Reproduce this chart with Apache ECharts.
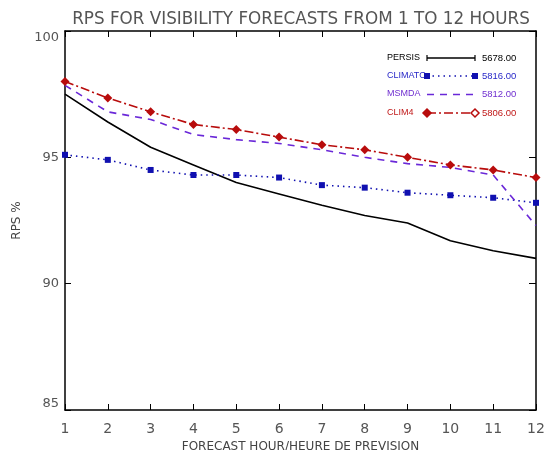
<!DOCTYPE html>
<html lang="en">
<head>
    <meta charset="UTF-8">
    <title>RPS</title>
</head>
<style>
    body{
        margin: 0;
        padding: 0;
        background-color: #fff;
    }
    .main{
        width: 545px;
        height: 450px;
    }
</style>
<body>
    <div class="main"></div>
</body>
<script src="https://cdn.jsdelivr.net/npm/echarts/dist/echarts.min.js"></script>
<script>
  // data
  var hours = [1, 2, 3, 4, 5, 6, 7, 8, 9, 10, 11, 12];
  var persis  = [97.5, 96.4, 95.4, 94.7, 94.0, 93.55, 93.1, 92.7, 92.4, 91.7, 91.3, 91.0];
  var climato = [95.1, 94.9, 94.5, 94.3, 94.3, 94.2, 93.9, 93.8, 93.6, 93.5, 93.4, 93.2];
  var msmda   = [97.85, 96.8, 96.5, 95.9, 95.7, 95.55, 95.3, 95.0, 94.75, 94.6, 94.3, 92.3];
  var clim4   = [98.0, 97.35, 96.8, 96.3, 96.1, 95.8, 95.5, 95.3, 95.0, 94.7, 94.5, 94.2];
  var names   = ['PERSIS', 'CLIMATO', 'MSMDA', 'CLIM4'];
  var totals  = [5678.00, 5816.00, 5812.00, 5806.00];
  var yTicks  = [85, 90, 95, 100];

  var myChart = echarts.init(document.querySelector('.main'));

  function pairs(vals){
    return hours.map(function(h, i){ return [h, vals[i]]; });
  }

  var colors = ['#000000', '#1010b0', '#6a28d8', '#b80c0c'];
  var textColors = ['#000000', '#2828c8', '#7030d0', '#c01818'];
  var dashes = ['solid', [1.5, 4], [7, 6], [9, 3, 2, 3]];

  // hand-made legend: name, line sample, total
  var legendItems = [];
  var legY = [58, 76, 94.5, 113];
  names.forEach(function(n, i){
    var y = legY[i];
    legendItems.push({
      type: 'text', left: 387, top: y - 5,
      style: { text: n, fill: textColors[i], font: '9px "Liberation Sans"' }
    });
    legendItems.push({
      type: 'line', shape: { x1: 427, y1: y, x2: 475, y2: y },
      style: { stroke: colors[i], lineWidth: 1.5, lineDash: dashes[i] === 'solid' ? null : dashes[i] }
    });
    legendItems.push({
      type: 'text', left: 482, top: y - 5,
      style: { text: totals[i].toFixed(2), fill: textColors[i], font: '9.5px "Liberation Sans"' }
    });
    [427, 475].forEach(function(x){
      if (i === 0) {
        legendItems.push({ type: 'line', shape: { x1: x, y1: y - 3, x2: x, y2: y + 3 }, style: { stroke: '#000', lineWidth: 1.2 } });
      } else if (i === 1) {
        legendItems.push({ type: 'rect', shape: { x: x - 3, y: y - 3, width: 6, height: 6 }, style: { fill: colors[1] } });
      } else if (i === 3) {
        legendItems.push({ type: 'polygon', shape: { points: [[x, y - 4], [x + 4, y], [x, y + 4], [x - 4, y]] },
          style: { fill: x === 427 ? colors[3] : '#fff', stroke: colors[3], lineWidth: 1.5 } });
      }
    });
  });

  var labelStyle = { color: '#555', fontFamily: 'DejaVu Sans', fontSize: 13 };

  var option = {
    animation: false,
    backgroundColor: '#fff',
    title: {
      text: 'RPS FOR VISIBILITY FORECASTS FROM 1 TO 12 HOURS',
      left: 296, top: 6, textAlign: 'center',
      textStyle: { color: '#555', fontFamily: 'DejaVu Sans', fontSize: 16.8, fontWeight: 'normal' }
    },
    grid: { left: 65, top: 31, right: 9, bottom: 40, outerBoundsMode: 'none', containLabel: false },
    xAxis: [{
      type: 'value', min: 1, max: 12, interval: 1,
      name: 'FORECAST HOUR/HEURE DE PREVISION', nameLocation: 'middle', nameGap: 28,
      nameTextStyle: { color: '#444', fontFamily: 'DejaVu Sans', fontSize: 12 },
      axisLine: { lineStyle: { color: '#000', width: 1.5 } },
      axisTick: { inside: true, length: 6, lineStyle: { color: '#000' } },
      axisLabel: Object.assign({}, labelStyle, { margin: 12, fontSize: 14 }),
      splitLine: { show: false }
    }, {
      type: 'value', min: 1, max: 12, interval: 1, position: 'top',
      axisLine: { lineStyle: { color: '#000', width: 1.5 } },
      axisTick: { inside: true, length: 6, lineStyle: { color: '#000' } },
      axisLabel: { show: false },
      splitLine: { show: false }
    }],
    yAxis: [{
      type: 'value', min: yTicks[0], max: yTicks[yTicks.length - 1], interval: 5,
      name: 'RPS %', nameLocation: 'middle', nameGap: 40, nameRotate: 90,
      nameTextStyle: { color: '#444', fontFamily: 'DejaVu Sans', fontSize: 12 },
      axisLine: { lineStyle: { color: '#000', width: 1.5 } },
      axisTick: { inside: true, length: 6, lineStyle: { color: '#000' } },
      axisLabel: Object.assign({ margin: 6, verticalAlignMinLabel: 'bottom', verticalAlignMaxLabel: 'top' }, labelStyle),
      splitLine: { show: false }
    }, {
      type: 'value', min: yTicks[0], max: yTicks[yTicks.length - 1], interval: 5, position: 'right',
      axisLine: { lineStyle: { color: '#000', width: 1.5 } },
      axisTick: { inside: true, length: 7, lineStyle: { color: '#000' } },
      axisLabel: { show: false },
      splitLine: { show: false }
    }],
    graphic: legendItems,
    series: [
      {
        name: names[0], type: 'line', data: pairs(persis), showSymbol: false, symbol: 'none',
        lineStyle: { color: colors[0], width: 1.6 }
      },
      {
        name: names[1], type: 'line', data: pairs(climato), symbol: 'rect', symbolSize: 6,
        itemStyle: { color: colors[1] },
        lineStyle: { color: colors[1], width: 1.6, type: dashes[1] }
      },
      {
        name: names[2], type: 'line', data: pairs(msmda), symbol: 'none',
        lineStyle: { color: colors[2], width: 1.6, type: dashes[2] }
      },
      {
        name: names[3], type: 'line', data: pairs(clim4), symbol: 'diamond', symbolSize: 9,
        itemStyle: { color: colors[3] },
        lineStyle: { color: colors[3], width: 1.6, type: dashes[3] }
      }
    ]
  };
  myChart.setOption(option);
</script>
</html>
